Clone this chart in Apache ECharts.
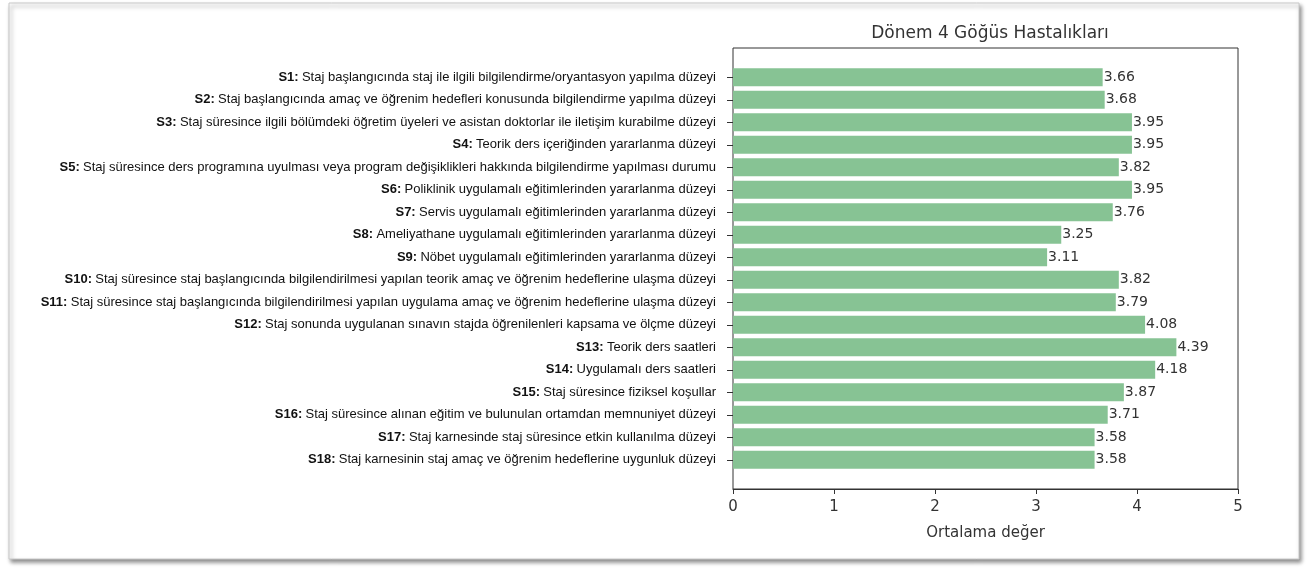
<!DOCTYPE html>
<html>
<head>
<meta charset="utf-8">
<script src="https://cdn.jsdelivr.net/npm/echarts@6/dist/echarts.min.js"></script>
<style>
  html, body { margin: 0; padding: 0; background: #fff; }
  #chart { width: 1310px; height: 569px; }
</style>
</head>
<body>
<div id="chart"></div>
<script>
// soru kodları, metinleri ve ortalama değerleri
const codes = ['S1', 'S2', 'S3', 'S4', 'S5', 'S6', 'S7', 'S8', 'S9', 'S10', 'S11', 'S12', 'S13', 'S14', 'S15', 'S16', 'S17', 'S18'];
const texts = [
  'Staj başlangıcında staj ile ilgili bilgilendirme/oryantasyon yapılma düzeyi',
  'Staj başlangıcında amaç ve öğrenim hedefleri konusunda bilgilendirme yapılma düzeyi',
  'Staj süresince ilgili bölümdeki öğretim üyeleri ve asistan doktorlar ile iletişim kurabilme düzeyi',
  'Teorik ders içeriğinden yararlanma düzeyi',
  'Staj süresince ders programına uyulması veya program değişiklikleri hakkında bilgilendirme yapılması durumu',
  'Poliklinik uygulamalı eğitimlerinden yararlanma düzeyi',
  'Servis uygulamalı eğitimlerinden yararlanma düzeyi',
  'Ameliyathane uygulamalı eğitimlerinden yararlanma düzeyi',
  'Nöbet uygulamalı eğitimlerinden yararlanma düzeyi',
  'Staj süresince staj başlangıcında bilgilendirilmesi yapılan teorik amaç ve öğrenim hedeflerine ulaşma düzeyi',
  'Staj süresince staj başlangıcında bilgilendirilmesi yapılan uygulama amaç ve öğrenim hedeflerine ulaşma düzeyi',
  'Staj sonunda uygulanan sınavın stajda öğrenilenleri kapsama ve ölçme düzeyi',
  'Teorik ders saatleri',
  'Uygulamalı ders saatleri',
  'Staj süresince fiziksel koşullar',
  'Staj süresince alınan eğitim ve bulunulan ortamdan memnuniyet düzeyi',
  'Staj karnesinde staj süresince etkin kullanılma düzeyi',
  'Staj karnesinin staj amaç ve öğrenim hedeflerine uygunluk düzeyi'
];
const means = [3.66, 3.68, 3.95, 3.95, 3.82, 3.95, 3.76, 3.25, 3.11, 3.82, 3.79, 4.08, 4.39, 4.18, 3.87, 3.71, 3.58, 3.58];
const xTicks = [0, 1, 2, 3, 4, 5];

const chart = echarts.init(document.getElementById('chart'));

const mono = 'DejaVu Sans';
const labelFont = 'Liberation Sans';

const option = {
  animation: false,
  title: {
    text: 'Dönem 4 Göğüs Hastalıkları',
    left: 985,
    textAlign: 'center',
    top: 20,
    textStyle: { fontFamily: mono, fontSize: 17, fontWeight: 'normal', color: '#333' }
  },
  graphic: [{
    type: 'rect',
    z: -10,
    shape: { x: 9, y: 3, width: 1290, height: 556 },
    style: {
      fill: '#fff', stroke: '#c8c8c8', lineWidth: 1,
      shadowBlur: 4, shadowOffsetX: 2, shadowOffsetY: 3, shadowColor: 'rgba(0,0,0,0.45)'
    }
  }],
  grid: [
    // çerçeve + x ekseni
    { left: 733, right: 72, top: 48, bottom: 80, show: true, borderColor: '#333', borderWidth: 1, backgroundColor: 'transparent' },
    // çubuklar
    { left: 733, right: 72, top: 66, bottom: 98 }
  ],
  xAxis: [
    {
      gridIndex: 0, type: 'value', min: 0, max: 5, interval: 1,
      name: 'Ortalama değer', nameLocation: 'middle', nameGap: 37,
      nameTextStyle: { fontFamily: mono, fontSize: 15, color: '#333' },
      axisLine: { show: true, lineStyle: { color: '#333' } },
      axisTick: { show: true, length: 5, lineStyle: { color: '#333' } },
      axisLabel: { fontFamily: mono, fontSize: 15, color: '#333', margin: 11, formatter: v => xTicks.includes(v) ? String(v) : '' },
      splitLine: { show: false }
    },
    {
      gridIndex: 1, type: 'value', min: 0, max: 5, show: false
    }
  ],
  yAxis: [
    { gridIndex: 0, type: 'value', show: false },
    {
      gridIndex: 1, type: 'category', inverse: true, data: codes,
      axisLine: { show: false },
      axisTick: { show: true, alignWithLabel: true, length: 6, lineStyle: { color: '#333' } },
      axisLabel: {
        margin: 17,
        formatter: (v, i) => '{b|' + v + ':} {t|' + texts[i] + '}',
        rich: {
          b: { fontFamily: labelFont, fontSize: 13, fontWeight: 'bold', color: '#111' },
          t: { fontFamily: labelFont, fontSize: 13, color: '#111' }
        }
      }
    }
  ],
  series: [{
    type: 'bar',
    xAxisIndex: 1,
    yAxisIndex: 1,
    data: means,
    barWidth: '80%',
    itemStyle: { color: '#87c394' },
    label: {
      show: true, position: 'right', distance: 1,
      fontFamily: mono, fontSize: 14, color: '#333',
      formatter: p => p.value.toFixed(2)
    }
  }]
};

chart.setOption(option);
</script>
</body>
</html>
